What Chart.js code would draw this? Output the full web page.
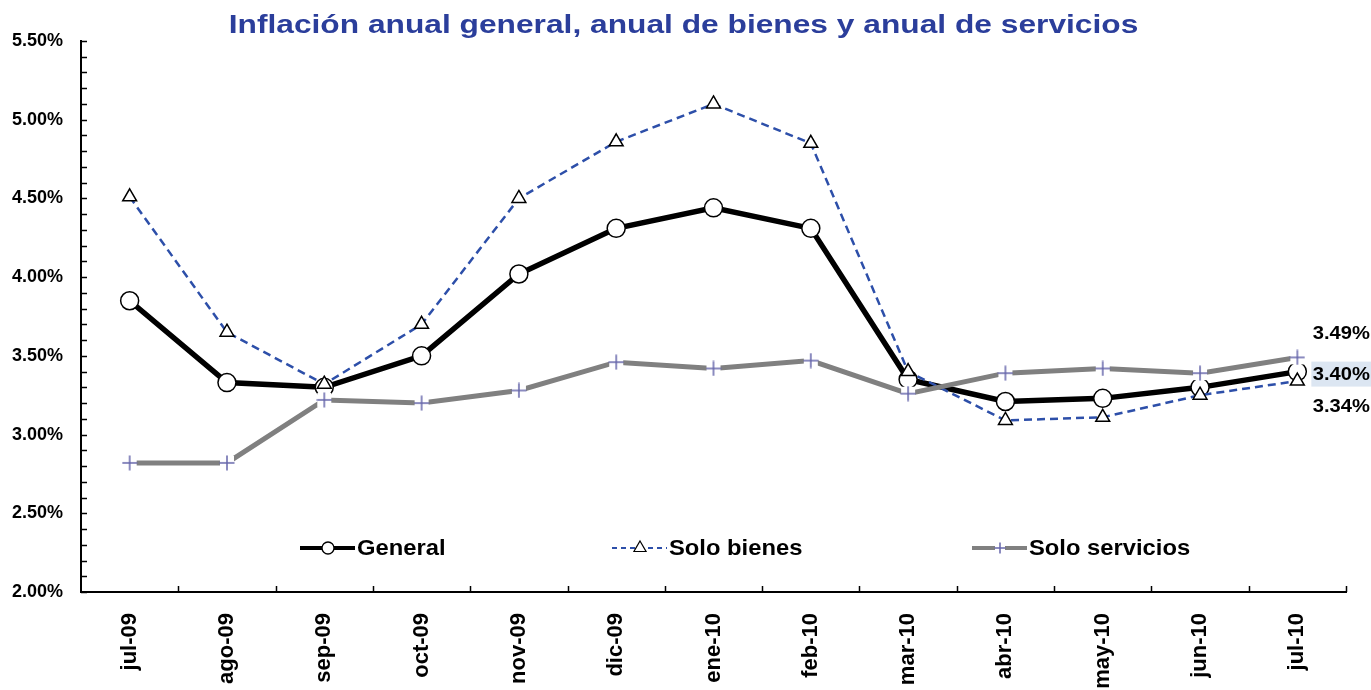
<!DOCTYPE html>
<html>
<head>
<meta charset="utf-8">
<script src="https://cdn.jsdelivr.net/npm/chart.js@4.4.1/dist/chart.umd.min.js"></script>
<style>
  html, body { margin: 0; padding: 0; background: #ffffff; }
  #wrap { width: 1371px; height: 690px; position: relative; }
</style>
</head>
<body>
<div id="wrap"><canvas id="c" width="1371" height="690"></canvas></div>
<script>
const titleText = 'Inflación anual general, anual de bienes y anual de servicios';
const categories = ['jul-09','ago-09','sep-09','oct-09','nov-09','dic-09','ene-10','feb-10','mar-10','abr-10','may-10','jun-10','jul-10'];
const seriesNames = ['General', 'Solo bienes', 'Solo servicios'];
const general   = [3.85, 3.33, 3.30, 3.50, 4.02, 4.31, 4.44, 4.31, 3.35, 3.21, 3.23, 3.30, 3.40];
const bienes    = [4.51, 3.65, 3.32, 3.70, 4.50, 4.86, 5.10, 4.85, 3.40, 3.09, 3.11, 3.25, 3.34];
const servicios = [2.82, 2.82, 3.22, 3.20, 3.28, 3.46, 3.42, 3.47, 3.26, 3.39, 3.42, 3.39, 3.49];
const yMin = 2.0, yMax = 5.5, yMinorStep = 0.1, yLabelStep = 0.5;

const FONT = '"Liberation Sans", Arial, Helvetica, sans-serif';

// "+" marker with white backing (as in the original)
function plusMarker(size, color) {
  const cv = document.createElement('canvas');
  cv.width = size; cv.height = size;
  const g = cv.getContext('2d');
  g.fillStyle = '#ffffff';
  g.fillRect(1, 1, size - 2, size - 2);
  g.strokeStyle = color; g.lineWidth = 1.5;
  g.beginPath();
  g.moveTo(size / 2, 0.5); g.lineTo(size / 2, size - 0.5);
  g.moveTo(0.5, size / 2); g.lineTo(size - 0.5, size / 2);
  g.stroke();
  return cv;
}
const plusBig = plusMarker(16, '#6666aa');
const plusSmall = plusMarker(12, '#6666aa');

function stretchedText(ctx, text, x, y, sx, align) {
  ctx.save();
  ctx.translate(x, y);
  ctx.scale(sx, 1);
  ctx.textAlign = align;
  ctx.fillText(text, 0, 0);
  ctx.restore();
}

const titlePlugin = {
  id: 'stretchTitle',
  afterDraw(chart) {
    const ctx = chart.ctx;
    ctx.save();
    ctx.font = 'bold 26px ' + FONT;
    ctx.fillStyle = '#2b3e9b';
    ctx.textBaseline = 'alphabetic';
    stretchedText(ctx, titleText, chart.width / 2 - 2, 33, 1.22, 'center');
    ctx.restore();
  }
};

const axisTicksPlugin = {
  id: 'axisTicks',
  afterDatasetsDraw(chart) {
    const ctx = chart.ctx, a = chart.chartArea;
    const y = chart.scales.y;
    ctx.save();
    ctx.strokeStyle = '#000'; ctx.lineWidth = 1.5;
    ctx.beginPath();
    y.ticks.forEach((t, i) => {
      const py = Math.round(y.getPixelForTick(i)) + 0.5;
      ctx.moveTo(a.left, py); ctx.lineTo(a.left + 6, py);
    });
    const n = categories.length, w = (a.right - a.left) / n;
    for (let i = 1; i <= n; i++) {
      const px = Math.round(a.left + i * w) + 0.5;
      ctx.moveTo(px, a.bottom); ctx.lineTo(px, a.bottom - 6);
    }
    ctx.stroke();
    ctx.restore();
  }
};

const legendPlugin = {
  id: 'customLegend',
  afterDraw(chart) {
    const ctx = chart.ctx, a = chart.chartArea;
    const ly = a.bottom - 44;
    const starts = [a.left + 219, a.left + 531, a.left + 891];
    ctx.save();
    ctx.font = 'bold 22px ' + FONT;
    ctx.textBaseline = 'middle';
    ctx.fillStyle = '#000';
    starts.forEach((sx, i) => {
      const ds = chart.data.datasets.find(d => d.label === seriesNames[i]);
      ctx.save();
      ctx.strokeStyle = ds.borderColor;
      ctx.lineWidth = i === 1 ? 2 : 4;
      ctx.setLineDash(i === 1 ? [5, 4] : []);
      ctx.beginPath(); ctx.moveTo(sx, ly); ctx.lineTo(sx + 55, ly); ctx.stroke();
      ctx.setLineDash([]);
      const mx = sx + 28;
      if (i === 0) {
        ctx.fillStyle = '#fff'; ctx.strokeStyle = '#000'; ctx.lineWidth = 1.3;
        ctx.beginPath(); ctx.arc(mx, ly, 6, 0, Math.PI * 2); ctx.fill(); ctx.stroke();
      } else if (i === 1) {
        ctx.fillStyle = '#fff'; ctx.strokeStyle = '#000'; ctx.lineWidth = 1.2;
        const r = 7;
        ctx.beginPath();
        ctx.moveTo(mx, ly - r);
        ctx.lineTo(mx + r * 0.866, ly + r * 0.5);
        ctx.lineTo(mx - r * 0.866, ly + r * 0.5);
        ctx.closePath(); ctx.fill(); ctx.stroke();
      } else {
        ctx.drawImage(plusSmall, mx - 6, ly - 6);
      }
      ctx.restore();
      stretchedText(ctx, seriesNames[i], sx + 57, ly + 1, 1.08, 'left');
    });
    ctx.restore();
  }
};

const endLabelsPlugin = {
  id: 'endLabels',
  afterDraw(chart) {
    const ctx = chart.ctx;
    const last = categories.length - 1;
    const x = chart.scales.x.getPixelForValue(last);
    const ys = chart.scales.y;
    const items = [
      { v: servicios[last], dy: -23, bg: null },
      { v: general[last], dy: 3, bg: '#dce6f2' },
      { v: bienes[last], dy: 26, bg: null }
    ];
    ctx.save();
    ctx.font = 'bold 18px ' + FONT;
    ctx.textBaseline = 'middle';
    items.forEach(it => {
      const py = ys.getPixelForValue(it.v) + it.dy;
      const px = x + 44;
      if (it.bg) {
        ctx.fillStyle = it.bg;
        ctx.fillRect(px - 30, py - 13, 80, 25);
      }
      ctx.fillStyle = '#000';
      stretchedText(ctx, it.v.toFixed(2) + '%', px, py, 1.12, 'center');
    });
    ctx.restore();
  }
};

new Chart(document.getElementById('c'), {
  type: 'line',
  data: {
    labels: categories,
    datasets: [
      {
        label: seriesNames[0], data: general, order: 3,
        borderColor: '#000000', borderWidth: 5.5,
        pointStyle: 'circle', pointRadius: 9, pointHoverRadius: 9,
        pointBackgroundColor: '#ffffff', pointBorderColor: '#000000', pointBorderWidth: 1.5,
        tension: 0, fill: false
      },
      {
        label: seriesNames[1], data: bienes, order: 2,
        borderColor: '#2d4fa9', borderWidth: 2.5, borderDash: [8, 5],
        pointStyle: 'triangle', pointRadius: 8, pointHoverRadius: 8,
        pointBackgroundColor: '#ffffff', pointBorderColor: '#000000', pointBorderWidth: 1.5,
        tension: 0, fill: false
      },
      {
        label: seriesNames[2], data: servicios, order: 1,
        borderColor: '#808080', borderWidth: 5,
        pointStyle: plusBig, pointRadius: 8, pointHoverRadius: 8,
        tension: 0, fill: false
      }
    ]
  },
  plugins: [titlePlugin, axisTicksPlugin, legendPlugin, endLabelsPlugin],
  options: {
    responsive: false,
    animation: false,
    events: [],
    layout: { padding: { left: 0, right: 25, top: 41, bottom: 0 } },
    plugins: {
      legend: { display: false },
      tooltip: { enabled: false },
      title: { display: false }
    },
    scales: {
      x: {
        offset: true,
        grid: { display: false, drawTicks: false },
        border: { display: true, color: '#000', width: 2 },
        ticks: {
          color: '#000', maxRotation: 90, minRotation: 90, padding: 21, autoSkip: false,
          font: { family: FONT, size: 22, weight: 'bold' }
        },
        afterFit(scale) { scale.height = 98; }
      },
      y: {
        min: yMin, max: yMax,
        grid: { display: false, drawTicks: false },
        border: { display: true, color: '#000', width: 2 },
        ticks: {
          stepSize: yMinorStep, autoSkip: false, color: '#000', padding: 18,
          font: { family: FONT, size: 18, weight: 'bold' },
          callback(v) {
            const k = v / yLabelStep;
            return Math.abs(k - Math.round(k)) < 1e-6 ? v.toFixed(2) + '%' : '';
          }
        },
        afterFit(scale) { scale.width = 81; }
      }
    }
  }
});
</script>
</body>
</html>
